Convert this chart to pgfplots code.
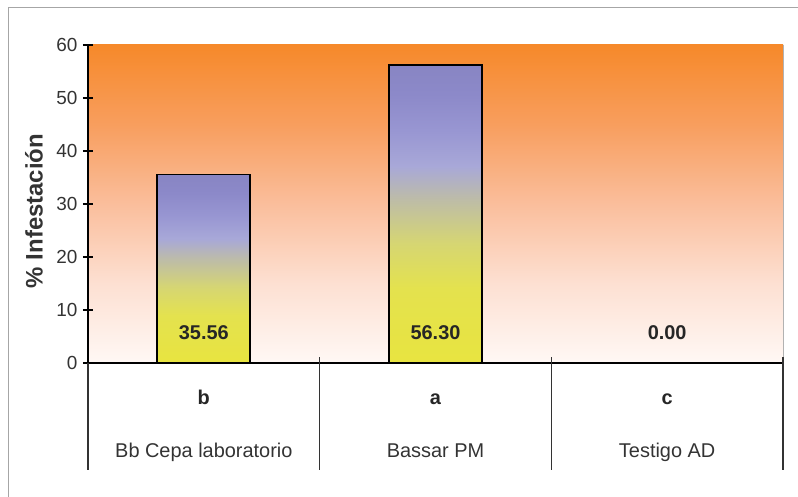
\documentclass[border=0pt]{standalone}
\usepackage{pgfplots}
\pgfplotsset{compat=1.18}
\usepackage{fontspec}
\setmainfont{Liberation Sans}

\definecolor{bgtop}{HTML}{F6892A}
\definecolor{bgA}{HTML}{F89E5E}
\definecolor{bgB}{HTML}{FABE9C}
\definecolor{bgC}{HTML}{FDE0D2}
\definecolor{bgbot}{HTML}{FFF8F5}
\definecolor{barA}{HTML}{E8E440}
\definecolor{barB}{HTML}{E4E24E}
\definecolor{barC}{HTML}{D6D672}
\definecolor{barD}{HTML}{BDBCA8}
\definecolor{barE}{HTML}{A8A8D8}
\definecolor{barF}{HTML}{9896D2}
\definecolor{barG}{HTML}{8C89C9}
\definecolor{barH}{HTML}{8885C3}
\definecolor{txt}{HTML}{333333}

\pgfdeclareverticalshading{bgshade}{100bp}{color(0bp)=(bgbot); color(25bp)=(bgbot);
  color(37.5bp)=(bgC); color(50bp)=(bgB); color(62.5bp)=(bgA); color(75bp)=(bgtop); color(100bp)=(bgtop)}
\pgfdeclareverticalshading{barshade}{100bp}{color(0bp)=(barA); color(25bp)=(barA);
  color(37.5bp)=(barB); color(45bp)=(barC); color(52.5bp)=(barD); color(58bp)=(barE);
  color(64bp)=(barF); color(70bp)=(barG); color(75bp)=(barH); color(100bp)=(barH)}

\begin{document}
\begin{tikzpicture}
\begin{axis}[
    scale only axis,
    width=695bp, height=318bp,
    xmin=-0.5, xmax=2.5,
    ymin=0, ymax=60,
    axis lines*=left,
    axis line style={black, line width=1.4pt},
    axis background/.style={shade, shading=bgshade},
    clip=false,
    xtick={0,1,2},
    xticklabels={Bb Cepa laboratorio, Bassar PM, Testigo AD},
    x tick style={draw=none},
    xticklabel style={anchor=base, yshift=-89bp, text=txt,
        font=\fontsize{20}{24}\selectfont},
    ytick={0,10,...,60},
    y tick style={black, line width=1.2pt},
    major tick length=10bp,
    tick align=center,
    /pgf/number format/assume math mode=true,
    yticklabel style={text=txt, xshift=-2bp, font=\fontsize{19}{22}\selectfont},
    ylabel={\% Infestación},
    every axis y label/.style={at={(axis description cs:-0.0777,0.478)},
        rotate=90, anchor=center, text=txt,
        font=\fontsize{24}{28}\selectfont\bfseries},
    bar style/.style={ybar, bar width=93bp, draw=black, line width=1.8pt,
        shade, shading=barshade},
]
% bars, one plot each so that each bar gets its own shading
\addplot[bar style] coordinates {(0,35.56)};
\addplot[bar style] coordinates {(1,56.30)};
% values inside the bars
\addplot[draw=none, mark=none, nodes near coords, point meta=explicit symbolic,
    every node near coord/.append style={anchor=base, text=black!85,
        font=\fontsize{20}{24}\selectfont\bfseries}]
    coordinates {(0,4.5) [35.56] (1,4.5) [56.30] (2,4.5) [0.00]};
% significance letters
\addplot[draw=none, mark=none, nodes near coords, point meta=explicit symbolic,
    every node near coord/.append style={anchor=base, text=black!85,
        font=\fontsize{20}{24}\selectfont\bfseries}]
    coordinates {(0,-7.9) [b] (1,-7.9) [a] (2,-7.9) [c]};
% dividers below the axis
\draw[black!80, line width=1.5pt] (axis cs:-0.5,0) -- (axis cs:-0.5,-20.2);
\draw[black!80, line width=1.5pt] (axis cs:0.5,1.1) -- (axis cs:0.5,-20.2);
\draw[black!80, line width=1.5pt] (axis cs:1.5,1.1) -- (axis cs:1.5,-20.2);
\draw[black!80, line width=1.5pt] (axis cs:2.5,1.1) -- (axis cs:2.5,-20.2);
\draw[gray!60, line width=1pt] (axis cs:2.5,1.1) -- (axis cs:2.5,60);
\end{axis}
\pgfresetboundingbox
\path[use as bounding box] (-88bp,-134bp) rectangle (710bp,363bp);
\draw[gray!70, line width=0.8pt] (-80bp,-140bp) -- (-80bp,356bp) -- (720bp,356bp);
\end{tikzpicture}
\end{document}
